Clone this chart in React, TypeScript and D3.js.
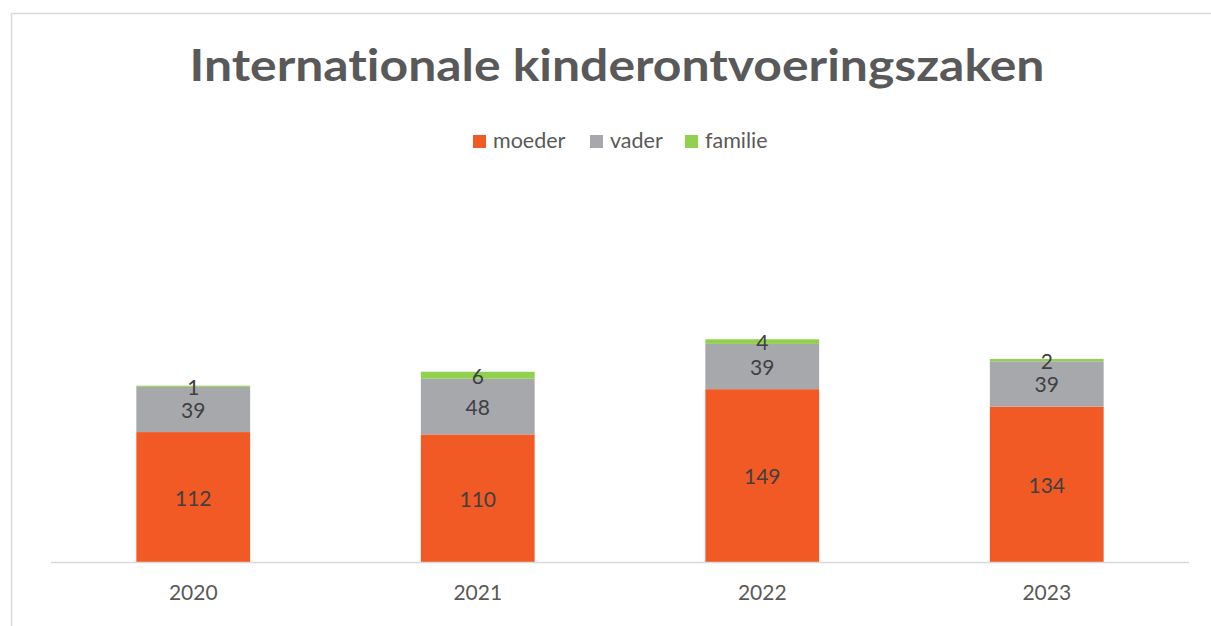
import React from 'react';
import * as d3 from 'd3';

const years = ['2020', '2021', '2022', '2023'];
const moeder = [112, 110, 149, 134];
const vader = [39, 48, 39, 39];
const familie = [1, 6, 4, 2];
const seriesNames = ['moeder', 'vader', 'familie'];
const seriesColors = ['#F15A24', '#A7A8AC', '#92D050'];
// zero-width non-joiner keeps Lato from drawing a "ti" ligature
const title = 'Internat\u200Cionale kinderontvoeringszaken';

const W = 1211;
const H = 626;
const FONT = 'Lato, "Open Sans", sans-serif';

export default function App() {
  const rows = years.map((y, i) => ({ year: y, moeder: moeder[i], vader: vader[i], familie: familie[i] }));
  const stack = d3.stack<any>().keys(seriesNames)(rows);

  const x = d3.scaleBand().domain(years).range([51, 1189]).paddingInner(0.6).paddingOuter(0.3);
  const y = d3.scaleLinear().domain([0, 200]).range([562, 330]);

  const legendX = [473, 590, 685];

  return (
    <div style={{ position: 'absolute', left: 0, top: 0 }}>
      <svg width={W} height={H} style={{ display: 'block', background: '#fff' }}>
        <path d={`M11.5,${H} V13.5 H${W}`} fill="none" stroke="#D9D9D9" strokeWidth={1.5} />
        <text x={617} y={81} textAnchor="middle" fontFamily={FONT} fontWeight="bold" fontSize={43}
          fill="#595959" textLength={855} lengthAdjust="spacingAndGlyphs">
          {title}
        </text>

        {seriesNames.map((s, i) => (
          <g key={s}>
            <rect x={legendX[i]} y={135} width={13} height={13} fill={seriesColors[i]} />
            <text x={legendX[i] + 20} y={148} fontFamily={FONT} fontSize={21.5} fill="#595959">{s}</text>
          </g>
        ))}

        {stack.map((layer, si) => (
          <g key={layer.key}>
            {layer.map((d, i) => (
              <rect key={i} x={x(years[i])} y={y(d[1])} width={x.bandwidth()}
                height={y(d[0]) - y(d[1])} fill={seriesColors[si]} />
            ))}
          </g>
        ))}

        {stack.map((layer) => (
          <g key={'l' + layer.key}>
            {layer.map((d, i) => (
              <text key={i} x={(x(years[i]) as number) + x.bandwidth() / 2} y={(y(d[0]) + y(d[1])) / 2}
                textAnchor="middle" dominantBaseline="central" fontFamily={FONT} fontSize={21} fill="#404040">
                {d[1] - d[0]}
              </text>
            ))}
          </g>
        ))}

        <line x1={51} x2={1189} y1={562.5} y2={562.5} stroke="#D9D9D9" strokeWidth={1.5} />
        {years.map((yr) => (
          <text key={yr} x={(x(yr) as number) + x.bandwidth() / 2} y={600} textAnchor="middle"
            fontFamily={FONT} fontSize={21} fill="#595959">{yr}</text>
        ))}
      </svg>
    </div>
  );
}
